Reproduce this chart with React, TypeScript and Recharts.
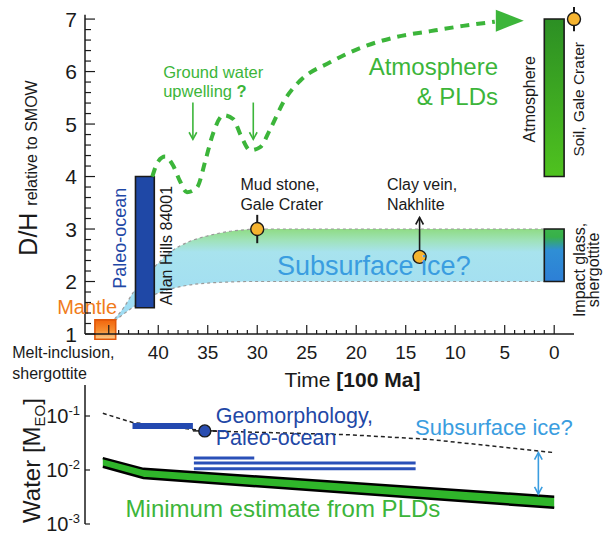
import React from "react";
import {
  ComposedChart,
  Line,
  Area,
  Scatter,
  XAxis,
  YAxis,
  ReferenceArea,
  ReferenceDot,
  ReferenceLine,
  ErrorBar,
  Label,
} from "recharts";

const FONT = "'Liberation Sans', Arial, Helvetica, sans-serif";
const GREEN = "#3cb53a";
const DARK_BLUE = "#1f48a6";
const SKY = "#3a9de0";
const ORANGE = "#f07c1c";
const INK = "#1a1a1a";

// time axis in 100 Ma, older on the left
const timeDomain = [-2, 47.4];
const timeTicks = Array.from({ length: 46 }, (_, i) => i);
const timeLabels = [40, 35, 30, 25, 20, 15, 10, 5, 0];

// D/H axis (top end leaves room for the soil error bar)
const dhDomain = [1, 7.23];
const dhTicks = Array.from({ length: 31 }, (_, i) => Math.round((1 + i * 0.2) * 10) / 10);
const dhLabels = [1, 2, 3, 4, 5, 6, 7];

// green dashed track to atmosphere & PLDs
const trackTime = [40.6, 40.0, 39.3, 38.5, 37.8, 37.1, 36.1, 35.2, 34.5, 33.4, 32.4, 31.7, 30.7, 29.7, 28.7, 27.2, 25.7, 22.6, 19.3, 15.9, 12.5, 9.2, 6.0];
const trackDH = [4.0, 4.29, 4.38, 4.21, 3.91, 3.7, 3.79, 4.33, 4.8, 5.17, 5.09, 4.8, 4.5, 4.56, 4.9, 5.47, 5.82, 6.18, 6.47, 6.66, 6.77, 6.87, 6.95];
const trackHead = [{ t: 5.9, v: 6.97 }];

// subsurface ice band
const iceTime = [44.4, 43.5, 42.5, 41, 40, 38.5, 37, 35, 33, 31, 30, 25, 1];
const iceLow = [1.25, 1.38, 1.52, 1.7, 1.78, 1.87, 1.93, 1.97, 1.99, 2.0, 2.0, 2.0, 2.0];
const iceHigh = [1.29, 1.5, 1.8, 2.15, 2.35, 2.6, 2.75, 2.87, 2.95, 2.99, 3.0, 3.0, 3.0];

// measured samples
const samples = [
  { t: 30, v: 3.0, err: 0.27 }, // mud stone
  { t: 13.6, v: 2.47, err: 0 }, // clay vein
  { t: -2.0, v: 7.0, err: 0.23 }, // soil
];

// boxes [t1, t2, v1, v2]
const paleoOcean = [42.3, 40.4, 1.5, 4.0];
const mantle = [46.4, 44.3, 0.9, 1.27];
const atmosphere = [1.0, -1.0, 4.0, 7.0];
const impactGlass = [1.0, -1.0, 2.0, 3.0];

// water panel
const waterTicks = [0.001, 0.01, 0.1];
const upperTime = [45.6, 42.6, 35.3, 20.8, 12.7, 0];
const upperWater = [0.112, 0.076, 0.053, 0.045, 0.037, 0.021];
const pldTime = [45.6, 41.5, 0];
const pldLow = [0.0115, 0.0071, 0.002];
const pldHigh = [0.0166, 0.0105, 0.0032];
const geoBar = [{ t: 42.6, w: 0.065 }, { t: 36.5, w: 0.065 }];
const geoPoint = [{ t: 35.3, w: 0.053, err: 1.2 }];
const oceanLines = [
  { from: 36.4, to: 30.3, w: 0.0166 },
  { from: 36.4, to: 14.0, w: 0.0135 },
  { from: 36.4, to: 14.0, w: 0.0105 },
];
const iceGap = { t: 1.6, from: 0.021, to: 0.0036 };

const track = trackTime.map((t, i) => ({ t, v: trackDH[i] }));
const iceBand = iceTime.map((t, i) => ({ t, range: [iceLow[i], iceHigh[i]] }));
const upper = upperTime.map((t, i) => ({ t, w: upperWater[i] }));
const pld = pldTime.map((t, i) => ({ t, range: [pldLow[i], pldHigh[i]] }));

const head = (xa: number, ya: number, xb: number, yb: number, color: string) => {
  const a = Math.atan2(yb - ya, xb - xa);
  const L = 8;
  const w = 0.5;
  return (
    <polyline
      points={`${xb - L * Math.cos(a - w)},${yb - L * Math.sin(a - w)} ${xb},${yb} ${xb - L * Math.cos(a + w)},${yb - L * Math.sin(a + w)}`}
      fill="none"
      stroke={color}
      strokeWidth={1.6}
    />
  );
};

const arrow = (color: string, both: boolean) => (p: any) => (
  <g>
    <line x1={p.x1} y1={p.y1} x2={p.x2} y2={p.y2} stroke={color} strokeWidth={1.6} />
    {head(p.x1, p.y1, p.x2, p.y2, color)}
    {both && head(p.x2, p.y2, p.x1, p.y1, color)}
  </g>
);

const note = (key: string, t: number, v: number, draw: (x: number, y: number) => React.ReactNode) => (
  <ReferenceDot key={key} x={t} y={v} r={0} ifOverflow="visible" shape={(p: any) => <g>{draw(p.cx, p.cy)}</g>} />
);

const box = (b: number[], fill: string, stroke: string) => (
  <ReferenceArea
    x1={b[0]}
    x2={b[1]}
    y1={b[2]}
    y2={b[3]}
    fill={fill}
    fillOpacity={1}
    stroke={stroke}
    strokeWidth={1.6}
    ifOverflow="visible"
  />
);

const TimeTick = (props: any) => {
  const { x, y, payload } = props;
  const v = payload.value;
  const major = v % 5 === 0;
  return (
    <g>
      <line x1={x} x2={x} y1={y} y2={y - (major ? 9 : 4)} stroke={INK} strokeWidth={1.2} />
      {timeLabels.includes(v) && (
        <text x={x} y={y + 25} textAnchor="middle" fontSize={19} fill={INK} fontFamily={FONT}>
          {v}
        </text>
      )}
    </g>
  );
};

const DHTick = (props: any) => {
  const { x, y, payload } = props;
  const v = payload.value;
  const major = dhLabels.includes(v);
  return (
    <g>
      <line x1={x} x2={x + (major ? 10 : 6)} y1={y} y2={y} stroke={INK} strokeWidth={1.2} />
      {major && (
        <text x={x - 8} y={y + 7.5} textAnchor="end" fontSize={21} fill={INK} fontFamily={FONT}>
          {v}
        </text>
      )}
    </g>
  );
};

const WaterTick = (props: any) => {
  const { x, y, payload } = props;
  const exp = Math.round(Math.log10(payload.value));
  return (
    <g>
      <line x1={x} x2={x + 5} y1={y} y2={y} stroke={INK} strokeWidth={1.2} />
      <text x={x - 5} y={y + 7} textAnchor="end" fontSize={20} fill={INK} fontFamily={FONT}>
        10
        <tspan dy={-8} fontSize={13}>
          {exp}
        </tspan>
      </text>
    </g>
  );
};

const circle = (fill: string, r: number) => (p: any) => (
  <circle cx={p.cx} cy={p.cy} r={r} fill={fill} stroke={INK} strokeWidth={1.4} />
);

export default function App() {
  return (
    <div style={{ position: "absolute", left: 0, top: 0, width: 611, height: 538, background: "#fff", fontFamily: FONT }}>
      <div style={{ position: "absolute", left: 0, top: 0 }}>
        <ComposedChart width={611} height={395} margin={{ top: 7, right: 37, bottom: 0, left: 0 }}>
          <defs>
            <linearGradient id="iceGrad" x1="0" y1="0" x2="0" y2="1">
              <stop offset="0" stopColor="#8fdc84" />
              <stop offset="0.12" stopColor="#9fe2b8" />
              <stop offset="0.25" stopColor="#a8e3ee" />
              <stop offset="1" stopColor="#9fdcf4" />
            </linearGradient>
            <linearGradient id="mantleGrad" x1="0" y1="0" x2="0" y2="1">
              <stop offset="0" stopColor="#f2640c" />
              <stop offset="0.55" stopColor="#f68e30" />
              <stop offset="1" stopColor="#fccf90" />
            </linearGradient>
            <linearGradient id="atmGrad" x1="0" y1="0" x2="0" y2="1">
              <stop offset="0" stopColor="#2c8f24" />
              <stop offset="1" stopColor="#4fc21f" />
            </linearGradient>
            <linearGradient id="glassGrad" x1="0" y1="0" x2="0" y2="1">
              <stop offset="0" stopColor="#3bb54a" />
              <stop offset="0.15" stopColor="#37b04a" />
              <stop offset="0.4" stopColor="#2f8fd5" />
              <stop offset="1" stopColor="#2d7fd6" />
            </linearGradient>
          </defs>
          <XAxis
            type="number"
            dataKey="t"
            domain={timeDomain}
            reversed
            ticks={timeTicks}
            interval={0}
            tick={TimeTick}
            tickLine={false}
            tickSize={0}
            tickMargin={0}
            height={61}
            axisLine={{ stroke: INK, strokeWidth: 1.5 }}
            label={
              <Label
                content={(p: any) => (
                  <text x={p.viewBox.x + p.viewBox.width / 2 + 23} y={p.viewBox.y + 53} textAnchor="middle" fontSize={21} fill={INK} fontFamily={FONT}>
                    Time <tspan fontWeight="bold">[100 Ma]</tspan>
                  </text>
                )}
              />
            }
          />
          <YAxis
            type="number"
            domain={dhDomain}
            ticks={dhTicks}
            interval={0}
            tick={DHTick}
            tickLine={false}
            tickSize={0}
            tickMargin={0}
            width={85}
            axisLine={false}
            label={
              <Label
                content={() => {
                  const cx = 37;
                  const cy = 168;
                  return (
                    <text x={cx} y={cy} transform={`rotate(-90 ${cx} ${cy})`} textAnchor="middle" fontSize={25} fill={INK} fontFamily={FONT}>
                      D/H <tspan fontSize={16}>relative to SMOW</tspan>
                    </text>
                  );
                }}
              />
            }
          />
          <ReferenceLine segment={[{ x: 47.4, y: 1 }, { x: 47.4, y: 7.08 }]} stroke={INK} strokeWidth={1.5} />
          <Area
            data={iceBand}
            dataKey="range"
            type="monotoneX"
            fill="url(#iceGrad)"
            fillOpacity={1}
            stroke="#9a9a9a"
            strokeWidth={1.2}
            strokeDasharray="3 3"
            isAnimationActive={false}
          />
          {box(paleoOcean, DARK_BLUE, INK)}
          {box(mantle, "url(#mantleGrad)", "#e0580a")}
          {box(atmosphere, "url(#atmGrad)", INK)}
          {box(impactGlass, "url(#glassGrad)", INK)}
          <Line
            data={track}
            dataKey="v"
            type="monotoneX"
            stroke={GREEN}
            strokeWidth={4}
            strokeDasharray="9 7"
            dot={false}
            isAnimationActive={false}
          />
          <Scatter
            data={trackHead}
            dataKey="v"
            isAnimationActive={false}
            shape={(p: any) => (
              <polygon points={`${p.cx},${p.cy - 11} ${p.cx + 28},${p.cy} ${p.cx},${p.cy + 11}`} fill={GREEN} />
            )}
          />
          <ReferenceLine segment={[{ x: 36.5, y: 5.41 }, { x: 36.5, y: 4.71 }]} shape={arrow(GREEN, false)} />
          <ReferenceLine segment={[{ x: 30.4, y: 5.41 }, { x: 30.4, y: 4.71 }]} shape={arrow(GREEN, false)} />
          <ReferenceLine segment={[{ x: 13.6, y: 2.47 }, { x: 13.6, y: 3.22 }]} shape={arrow(INK, false)} />
          <Scatter data={samples} dataKey="v" isAnimationActive={false} shape={circle("#f6b42f", 6.5)}>
            <ErrorBar dataKey="err" direction="y" width={0} stroke={INK} strokeWidth={2} />
          </Scatter>
          {note("gw", 39.5, 5.876, (x, y) => (
            <text x={x} y={y} fontSize={16.5} fill={GREEN} fontFamily={FONT}>
              Ground water
              <tspan x={x} dy={19}>upwelling </tspan>
              <tspan fontWeight="bold">?</tspan>
            </text>
          ))}
          {note("atm", 5.67, 5.93, (x, y) => (
            <text x={x} y={y} fontSize={24} fill={GREEN} fontFamily={FONT} textAnchor="end">
              Atmosphere
              <tspan x={x} dy={30}>&amp; PLDs</tspan>
            </text>
          ))}
          {note("mud", 31.7, 3.75, (x, y) => (
            <text x={x} y={y} fontSize={16} fill={INK} fontFamily={FONT}>
              Mud stone,
              <tspan x={x} dy={20}>Gale Crater</tspan>
            </text>
          ))}
          {note("clay", 16.9, 3.75, (x, y) => (
            <text x={x} y={y} fontSize={16} fill={INK} fontFamily={FONT}>
              Clay vein,
              <tspan x={x} dy={20}>Nakhlite</tspan>
            </text>
          ))}
          {note("ice", 28.0, 2.13, (x, y) => (
            <text x={x} y={y} fontSize={27} fill={SKY} fontFamily={FONT}>
              Subsurface ice?
            </text>
          ))}
          {note("alh", 38.6, 1.55, (x, y) => (
            <text x={x} y={y} transform={`rotate(-90 ${x} ${y})`} fontSize={16} fill={INK} fontFamily={FONT}>
              Allan Hills 84001
            </text>
          ))}
          {note("paleo", 43.25, 1.86, (x, y) => (
            <text x={x} y={y} transform={`rotate(-90 ${x} ${y})`} fontSize={18} fill={DARK_BLUE} fontFamily={FONT}>
              Paleo-ocean
            </text>
          ))}
          {note("mantle", 44.15, 1.38, (x, y) => (
            <text x={x} y={y} textAnchor="end" fontSize={20} fill={ORANGE} fontFamily={FONT}>
              Mantle
            </text>
          ))}
          {note("melt", 54.75, 0.54, (x, y) => (
            <text x={x} y={y} fontSize={16} fill={INK} fontFamily={FONT}>
              Melt-inclusion,
              <tspan x={x} dy={21}>shergottite</tspan>
            </text>
          ))}
          {note("atmLabel", 1.94, 4.65, (x, y) => (
            <text x={x} y={y} transform={`rotate(-90 ${x} ${y})`} fontSize={16} fill={INK} fontFamily={FONT}>
              Atmosphere
            </text>
          ))}
          {note("soil", -3.0, 4.38, (x, y) => (
            <text x={x} y={y} transform={`rotate(-90 ${x} ${y})`} fontSize={15.5} fill={INK} fontFamily={FONT}>
              Soil, Gale Crater
            </text>
          ))}
          {note("glass", -3.1, 2.22, (x, y) => (
            <text x={x} y={y} transform={`rotate(-90 ${x} ${y})`} textAnchor="middle" fontSize={16} fill={INK} fontFamily={FONT}>
              Impact glass,
              <tspan x={x} dy={14}>shergottite</tspan>
            </text>
          ))}
        </ComposedChart>
      </div>
      <div style={{ position: "absolute", left: 0, top: 380 }}>
        <ComposedChart width={611} height={158} margin={{ top: 5, right: 37, bottom: 14, left: 0 }}>
          <XAxis type="number" dataKey="t" domain={timeDomain} reversed hide />
          <YAxis
            type="number"
            scale="log"
            domain={[0.001, 0.375]}
            ticks={waterTicks}
            interval={0}
            tick={WaterTick}
            tickLine={false}
            tickSize={0}
            tickMargin={0}
            width={85}
            axisLine={{ stroke: INK, strokeWidth: 1.5 }}
            label={
              <Label
                content={(p: any) => {
                  const cx = 40;
                  const cy = p.viewBox.y + p.viewBox.height / 2 + 6;
                  return (
                    <text x={cx} y={cy} transform={`rotate(-90 ${cx} ${cy})`} textAnchor="middle" fontSize={24} fill={INK} fontFamily={FONT}>
                      Water [M<tspan fontSize={15} dy={5}>EO</tspan>
                      <tspan dy={-5}>]</tspan>
                    </text>
                  );
                }}
              />
            }
          />
          <Area
            data={pld}
            dataKey="range"
            type="linear"
            fill="#2fb52a"
            fillOpacity={1}
            stroke="#000"
            strokeWidth={2.5}
            isAnimationActive={false}
          />
          {oceanLines.map((l, i) => (
            <Line
              key={i}
              data={[{ t: l.from, w: l.w }, { t: l.to, w: l.w }]}
              dataKey="w"
              stroke="#2a50b8"
              strokeWidth={3}
              dot={false}
              isAnimationActive={false}
            />
          ))}
          <Line
            data={upper}
            dataKey="w"
            type="linear"
            stroke="#222"
            strokeWidth={1.5}
            strokeDasharray="4 3"
            dot={false}
            isAnimationActive={false}
          />
          <Line data={geoBar} dataKey="w" stroke="#2349b0" strokeWidth={6} dot={false} isAnimationActive={false} />
          <Scatter data={geoPoint} dataKey="w" isAnimationActive={false} shape={circle("#2a4db0", 6)}>
            <ErrorBar dataKey="err" direction="x" width={0} stroke={INK} strokeWidth={1.5} />
          </Scatter>
          <ReferenceLine
            segment={[{ x: iceGap.t, y: iceGap.from }, { x: iceGap.t, y: iceGap.to }]}
            shape={arrow(SKY, true)}
          />
          {note("geo", 34.2, 0.074, (x, y) => (
            <text x={x} y={y} fontSize={21.5} fill={DARK_BLUE} fontFamily={FONT}>
              Geomorphology,
              <tspan x={x} dy={22}>Paleo-ocean</tspan>
            </text>
          ))}
          {note("ice2", 14.06, 0.0445, (x, y) => (
            <text x={x} y={y} fontSize={22} fill={SKY} fontFamily={FONT}>
              Subsurface ice?
            </text>
          ))}
          {note("min", 43.3, 0.00135, (x, y) => (
            <text x={x} y={y} fontSize={24} fill={GREEN} fontFamily={FONT}>
              Minimum estimate from PLDs
            </text>
          ))}
        </ComposedChart>
      </div>
    </div>
  );
}
